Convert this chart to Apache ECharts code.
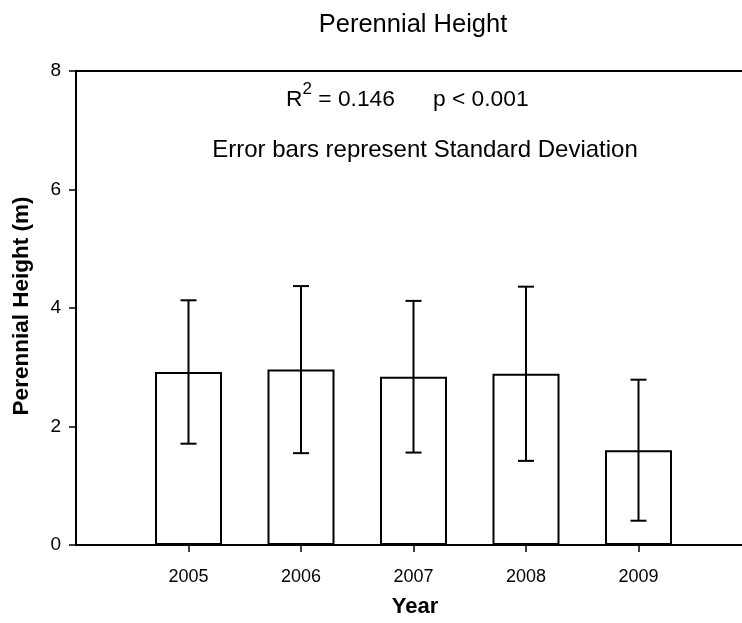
<!DOCTYPE html>
<html>
<head>
<meta charset="utf-8">
<title>Perennial Height</title>
<script src="https://cdn.jsdelivr.net/npm/echarts@6/dist/echarts.min.js"></script>
<style>
  html, body { margin: 0; padding: 0; background: #ffffff; }
  #chart { width: 742px; height: 623px; }
</style>
</head>
<body>
<div id="chart"></div>
<script>
// Mean perennial height per survey year, with one standard deviation
const years = [2005, 2006, 2007, 2008, 2009];
const meanHeight = [2.92, 2.96, 2.84, 2.89, 1.60];
const sdHeight = [1.21, 1.41, 1.28, 1.47, 1.19];
const yTicks = [0, 2, 4, 6, 8];

const FONT = '"Liberation Sans", Arial, Helvetica, sans-serif';

const barData = years.map((y, i) => [y, meanHeight[i]]);
const errData = years.map((y, i) => [y, meanHeight[i] - sdHeight[i], meanHeight[i] + sdHeight[i]]);

const chart = echarts.init(document.getElementById('chart'), null, { renderer: 'canvas' });

chart.setOption({
  animation: false,
  backgroundColor: '#ffffff',
  grid: { left: 76, right: 0, top: 71, bottom: 78 },
  xAxis: [
    {
      type: 'value',
      min: 2004,
      max: 2009.92,
      interval: 1,
      splitLine: { show: false },
      axisLine: { show: true, onZero: false, lineStyle: { color: '#000', width: 2 } },
      axisTick: { show: true, inside: false, length: 7, customValues: years,
                  lineStyle: { color: '#000', width: 1.5 } },
      axisLabel: { customValues: years, margin: 23, color: '#000', fontSize: 18, fontFamily: FONT,
                   formatter: v => String(v) }
    },
    {
      type: 'value',
      position: 'top',
      min: 2004,
      max: 2009.92,
      splitLine: { show: false },
      axisLine: { show: true, onZero: false, lineStyle: { color: '#000', width: 2 } },
      axisTick: { show: false },
      axisLabel: { show: false }
    }
  ],
  yAxis: {
    type: 'value',
    min: yTicks[0],
    max: yTicks[yTicks.length - 1],
    interval: 2,
    splitLine: { show: false },
    axisLine: { show: true, lineStyle: { color: '#000', width: 2 } },
    axisTick: { show: true, inside: false, length: 7, lineStyle: { color: '#000', width: 1.5 } },
    axisLabel: { margin: 15, color: '#000', fontSize: 19, fontFamily: FONT }
  },
  series: [
    {
      type: 'bar',
      data: barData,
      barWidth: 67,
      itemStyle: { color: '#ffffff', borderColor: '#000', borderWidth: 2 },
      z: 2
    },
    {
      type: 'custom',
      data: errData,
      z: 3,
      renderItem: function (params, api) {
        const x = api.value(0);
        const lo = api.coord([x, api.value(1)]);
        const hi = api.coord([x, api.value(2)]);
        const cap = 8;
        const style = { stroke: '#000', lineWidth: 2, fill: null };
        return {
          type: 'group',
          children: [
            { type: 'line', shape: { x1: hi[0], y1: hi[1], x2: lo[0], y2: lo[1] }, style },
            { type: 'line', shape: { x1: hi[0] - cap, y1: hi[1], x2: hi[0] + cap, y2: hi[1] }, style },
            { type: 'line', shape: { x1: lo[0] - cap, y1: lo[1], x2: lo[0] + cap, y2: lo[1] }, style }
          ]
        };
      }
    }
  ],
  graphic: [
    {
      type: 'text', x: 413, y: 25,
      style: { text: 'Perennial Height', fontSize: 25.5, fontFamily: FONT, fill: '#000',
               align: 'center', verticalAlign: 'middle' }
    },
    {
      type: 'text', x: 22, y: 306, rotation: Math.PI / 2,
      style: { text: 'Perennial Height (m)', fontSize: 22.5, fontWeight: 'bold', fontFamily: FONT,
               fill: '#000', align: 'center', verticalAlign: 'middle' }
    },
    {
      type: 'text', x: 415, y: 607,
      style: { text: 'Year', fontSize: 22, fontWeight: 'bold', fontFamily: FONT, fill: '#000',
               align: 'center', verticalAlign: 'middle' }
    },
    {
      type: 'text', x: 286, y: 96,
      style: {
        text: '{b|R}{s|2}{b| = 0.146      p < 0.001}',
        fontFamily: FONT, fill: '#000', align: 'left', verticalAlign: 'middle',
        rich: {
          b: { fontSize: 22.8, lineHeight: 30, verticalAlign: 'bottom', fontFamily: FONT, fill: '#000' },
          s: { fontSize: 17, lineHeight: 17, verticalAlign: 'top', fontFamily: FONT, fill: '#000' }
        }
      }
    },
    {
      type: 'text', x: 425, y: 150,
      style: { text: 'Error bars represent Standard Deviation', fontSize: 24, fontFamily: FONT,
               fill: '#000', align: 'center', verticalAlign: 'middle' }
    }
  ]
});
</script>
</body>
</html>
